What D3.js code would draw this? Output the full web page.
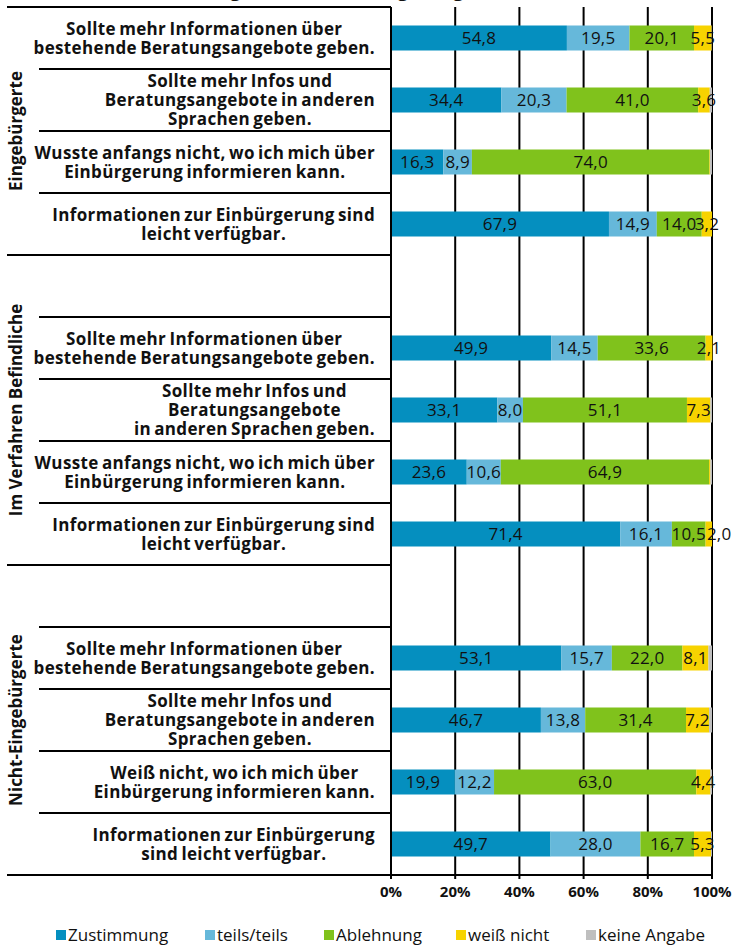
<!DOCTYPE html>
<html>
<head>
<meta charset="utf-8">
<script src="https://cdn.jsdelivr.net/npm/d3@7"></script>
<style>
  body { margin: 0; background: #fff; }
  svg text { font-family: "Open Sans", sans-serif; fill: #111; }
</style>
</head>
<body>
<div id="chart"></div>
<script>
// ---- data ----
const groups = ["Eingebürgerte", "Im Verfahren Befindliche", "Nicht-Eingebürgerte"];

const statements = [
  [
    ["Sollte mehr Informationen über", "bestehende Beratungsangebote geben."],
    ["Sollte mehr Infos und", "Beratungsangebote in anderen", "Sprachen geben."],
    ["Wusste anfangs nicht, wo ich mich über", "Einbürgerung informieren kann."],
    ["Informationen zur Einbürgerung sind", "leicht verfügbar."]
  ],
  [
    ["Sollte mehr Informationen über", "bestehende Beratungsangebote geben."],
    ["Sollte mehr Infos und", "Beratungsangebote", "in anderen Sprachen geben."],
    ["Wusste anfangs nicht, wo ich mich über", "Einbürgerung informieren kann."],
    ["Informationen zur Einbürgerung sind", "leicht verfügbar."]
  ],
  [
    ["Sollte mehr Informationen über", "bestehende Beratungsangebote geben."],
    ["Sollte mehr Infos und", "Beratungsangebote in anderen", "Sprachen geben."],
    ["Weiß nicht, wo ich mich über", "Einbürgerung informieren kann."],
    ["Informationen zur Einbürgerung", "sind leicht verfügbar."]
  ]
];

const seriesNames = ["Zustimmung", "teils/teils", "Ablehnung", "weiß nicht", "keine Angabe"];
const seriesColors = ["#058fbf", "#66b8da", "#80c21c", "#f7d300", "#bfbfbf"];

const zustimmung  = [54.8, 34.4, 16.3, 67.9, 49.9, 33.1, 23.6, 71.4, 53.1, 46.7, 19.9, 49.7];
const teilsTeils  = [19.5, 20.3,  8.9, 14.9, 14.5,  8.0, 10.6, 16.1, 15.7, 13.8, 12.2, 28.0];
const ablehnung   = [20.1, 41.0, 74.0, 14.0, 33.6, 51.1, 64.9, 10.5, 22.0, 31.4, 63.0, 16.7];
const weissNicht  = [ 5.5,  3.6,  0.2,  3.2,  2.1,  7.3,  0.4,  2.0,  8.1,  7.2,  4.4,  5.3];
const keineAngabe = [ 0.1,  0.7,  0.6,  0.0,  0.0,  0.5,  0.5,  0.0,  1.1,  0.9,  0.5,  0.3];

const tickValues = [0, 20, 40, 60, 80, 100];
const tickLabels = ["0%", "20%", "40%", "60%", "80%", "100%"];

const title = "Informationsangebote zur Einbürgerung (in Prozent)";

// ---- layout ----
const width = 734, height = 946;
const plotLeft = 391, plotRight = 712, plotTop = 7, plotBottom = 875;
const labelRight = 375, lineLeft = 7, innerLineLeft = 39;

const svg = d3.select("#chart").append("svg")
  .attr("width", width)
  .attr("height", height);

// rows: group 1 has 4 rows, the others get an empty row before their items
const rows = [];
const records = [];
let k = 0;
groups.forEach((g, gi) => {
  if (gi > 0) rows.push({id: "blank" + gi, group: gi, blank: true});
  statements[gi].forEach((lines, si) => {
    const id = "r" + gi + "_" + si;
    rows.push({id: id, group: gi, lines: lines});
    records.push({
      id: id,
      "Zustimmung": zustimmung[k],
      "teils/teils": teilsTeils[k],
      "Ablehnung": ablehnung[k],
      "weiß nicht": weissNicht[k],
      "keine Angabe": keineAngabe[k]
    });
    k++;
  });
});

const x = d3.scaleLinear().domain([0, 100]).range([plotLeft, plotRight]);
const y = d3.scaleBand().domain(rows.map(d => d.id)).range([plotTop, plotBottom]);
const barH = 25;

// title, mostly above the visible area (only its descenders show)
svg.append("text")
  .attr("x", 330)
  .attr("y", -4)
  .attr("text-anchor", "middle")
  .style("font-size", "19px")
  .style("font-weight", "bold")
  .text(title);

// grid lines
svg.append("g")
  .selectAll("line")
  .data(tickValues.slice(1))
  .join("line")
  .attr("x1", d => x(d)).attr("x2", d => x(d))
  .attr("y1", plotTop).attr("y2", plotBottom + 4)
  .attr("stroke", "#000")
  .attr("stroke-width", 2);

// stacked bars
const stack = d3.stack().keys(seriesNames);
const stacked = stack(records);
const color = d3.scaleOrdinal().domain(seriesNames).range(seriesColors);

const layers = svg.append("g")
  .selectAll("g")
  .data(stacked)
  .join("g")
  .attr("fill", d => color(d.key));

layers.selectAll("rect")
  .data(d => d)
  .join("rect")
  .attr("x", d => x(d[0]))
  .attr("width", d => x(d[1]) - x(d[0]))
  .attr("y", d => y(d.data.id) + y.bandwidth() / 2 - barH / 2)
  .attr("height", barH);

// value labels (not for keine Angabe, not for tiny parts)
const fmt = d3.format(".1f");
const valueLabels = svg.append("g")
  .selectAll("g")
  .data(stacked.filter(s => s.key !== "keine Angabe"))
  .join("g")
  .selectAll("text")
  .data(d => d.filter(p => p[1] - p[0] >= 1))
  .join("text")
  .attr("x", d => (x(d[0]) + x(d[1])) / 2)
  .attr("y", d => y(d.data.id) + y.bandwidth() / 2)
  .attr("dy", "0.36em")
  .attr("text-anchor", "middle")
  .style("font-size", "17px")
  .style("letter-spacing", "0.2px")
  .text(d => fmt(d[1] - d[0]).replace(".", ","));

// nudge a label to the right when it runs into the one before it
const byRow = d3.group(valueLabels.nodes(), n => d3.select(n).datum().data.id);
byRow.forEach(nodes => {
  nodes.sort((a, b) => d3.select(a).datum()[0] - d3.select(b).datum()[0]);
  for (let i = 1; i < nodes.length; i++) {
    const prev = nodes[i - 1].getBBox(), cur = nodes[i].getBBox();
    const overlap = prev.x + prev.width - cur.x;
    if (overlap > 3) {
      const cx = +nodes[i].getAttribute("x");
      nodes[i].setAttribute("x", cx + overlap + 1);
    }
  }
});

// category separator lines in the label area
const boundaries = [];
rows.forEach((r, i) => {
  const isGroupStart = i === 0 || rows[i - 1].group !== r.group;
  boundaries.push({y: y(r.id), full: isGroupStart});
});
boundaries.push({y: plotBottom, full: true});

svg.append("g")
  .selectAll("line")
  .data(boundaries)
  .join("line")
  .attr("x1", d => d.full ? lineLeft : innerLineLeft)
  .attr("x2", d => d.y === plotBottom ? plotRight : plotLeft)
  .attr("y1", d => d.y).attr("y2", d => d.y)
  .attr("stroke", "#000")
  .attr("stroke-width", 2);

// value axis line (left)
svg.append("line")
  .attr("x1", plotLeft).attr("x2", plotLeft)
  .attr("y1", plotTop).attr("y2", plotBottom + 4)
  .attr("stroke", "#000")
  .attr("stroke-width", 2);

// category labels, lines centred to each other, block right aligned
const catLabels = svg.append("g")
  .selectAll("text")
  .data(rows.filter(r => !r.blank))
  .join("text")
  .style("font-size", "17px")
  .style("font-weight", "bold")
  .style("letter-spacing", "0.35px")
  .style("word-spacing", "-1.5px")
  .attr("text-anchor", "middle");

catLabels.each(function(r) {
  const t = d3.select(this);
  const n = r.lines.length;
  const cy = y(r.id) + y.bandwidth() / 2;
  const spans = t.selectAll("tspan")
    .data(r.lines)
    .join("tspan")
    .attr("y", (d, i) => cy + (i - (n - 1) / 2) * 19)
    .attr("dy", "0.36em")
    .text(d => d);
  let maxW = 0;
  spans.each(function() { maxW = Math.max(maxW, this.getComputedTextLength()); });
  spans.attr("x", labelRight - maxW / 2);
});

// group labels, rotated
svg.append("g")
  .selectAll("text")
  .data(groups)
  .join("text")
  .attr("transform", (g, gi) => {
    const gr = rows.filter(r => r.group === gi);
    const top = y(gr[0].id), bottom = y(gr[gr.length - 1].id) + y.bandwidth();
    return `translate(16,${(top + bottom) / 2}) rotate(-90)`;
  })
  .attr("dy", "0.36em")
  .attr("text-anchor", "middle")
  .style("font-size", "17px")
  .style("font-weight", "bold")
  .text(d => d);

// x tick labels
svg.append("g")
  .selectAll("text")
  .data(tickValues)
  .join("text")
  .attr("x", d => x(d))
  .attr("y", 892)
  .attr("dy", "0.36em")
  .attr("text-anchor", "middle")
  .style("font-size", "15px")
  .style("font-weight", "bold")
  .text((d, i) => tickLabels[i]);

// legend
const legendX = [56, 205, 324, 456, 586];
const legend = svg.append("g")
  .selectAll("g")
  .data(seriesNames)
  .join("g")
  .attr("transform", (d, i) => `translate(${legendX[i]},935)`);

legend.append("rect")
  .attr("x", 0).attr("y", -5)
  .attr("width", 10).attr("height", 10)
  .attr("fill", d => color(d));

legend.append("text")
  .attr("x", 12)
  .attr("dy", "0.36em")
  .style("font-size", "17px")
  .text(d => d);
</script>
</body>
</html>
